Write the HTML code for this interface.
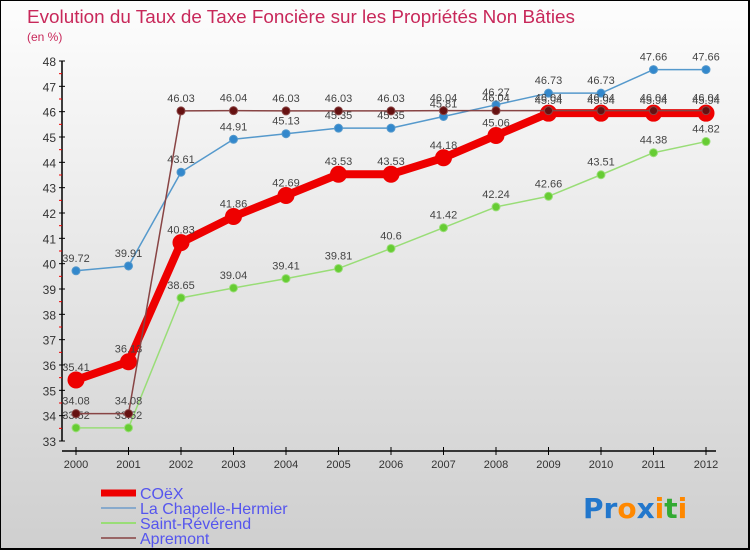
<!DOCTYPE html>
<html><head><meta charset="utf-8"><style>
body{margin:0;}
#c{position:relative;width:750px;height:550px;box-sizing:border-box;border:1px solid #000;border-width:1px 2px 2px 1px;background:linear-gradient(#fdfdfd,#cfcfcf);font-family:"Liberation Sans",sans-serif;overflow:hidden}
</style></head><body>
<div id="c">
<svg id="s" width="750" height="550"></svg>
</div>
<script>
const years=["2000","2001","2002","2003","2004","2005","2006","2007","2008","2009","2010","2011","2012"];
const coex=[35.41,36.13,40.83,41.86,42.69,43.53,43.53,44.18,45.06,45.94,45.94,45.94,45.94];
const chapelle=[39.72,39.91,43.61,44.91,45.13,45.35,45.35,45.81,46.27,46.73,46.73,47.66,47.66];
const reverend=[33.52,33.52,38.65,39.04,39.41,39.81,40.6,41.42,42.24,42.66,43.51,44.38,44.82];
const apremont=[34.08,34.08,46.03,46.04,46.03,46.03,46.03,46.04,46.04,46.04,46.04,46.04,46.04];
const yTicks=[33,34,35,36,37,38,39,40,41,42,43,44,45,46,47,48];
const NS="http://www.w3.org/2000/svg";
const svg=document.getElementById('s');
const X=i=>75+i*52.5;
const Y=v=>440-(v-33)*(380/15);
function el(t,a,txt){const e=document.createElementNS(NS,t);for(const k in a)e.setAttribute(k,a[k]);if(txt!==undefined)e.textContent=txt;svg.appendChild(e);return e;}
let e;
e=el('text',{x:26,y:22,fill:'#c8285a','font-size':18.5,textLength:548,lengthAdjust:'spacingAndGlyphs'},'Evolution du Taux de Taxe Foncière sur les Propriétés Non Bâties');


e=el('text',{x:26,y:40,fill:'#c8285a','font-size':12},'(en %)');


e=el('line',{x1:61,y1:60,x2:61,y2:440,stroke:'#000','stroke-width':1.5});


yTicks.forEach(v=>{
 el('line',{x1:58,y1:Y(v),x2:64,y2:Y(v),stroke:'#000'});
 if(v<48)el('line',{x1:58,y1:Y(v+0.5),x2:61,y2:Y(v+0.5),stroke:'#e00'});
 e=el('text',{x:55,y:Y(v)+5,'text-anchor':'end','font-size':12,fill:'#333'},v);
 
 
});
e=el('line',{x1:61,y1:450,x2:715,y2:450,stroke:'#000','stroke-width':1.5});


years.forEach((y,i)=>{
 el('line',{x1:X(i),y1:446,x2:X(i),y2:454,stroke:'#000'});
 e=el('text',{x:X(i),y:467,'text-anchor':'middle','font-size':11,fill:'#333'},y);
 
 
});
function series(data,color,dot,w,r,name){
 e=el('polyline',{points:data.map((v,i)=>X(i)+','+Y(v)).join(' '),fill:'none',stroke:color,'stroke-width':w,'stroke-linejoin':'round'});
 
 
 data.forEach((v,i)=>{
  e=el('circle',{cx:X(i),cy:Y(v),r:r,fill:dot,stroke:color,'stroke-width':1});
  
  
  e=el('text',{x:X(i),y:Y(v)-9,'text-anchor':'middle','font-size':11,fill:'#444'},v);
  
  
 });
}
series(reverend,'#99dd77','#66cc33',1.5,4,'saint-reverend');
series(chapelle,'#5599cc','#3388cc',1.5,4,'la-chapelle-hermier');
series(coex,'#ee0000','#ee0000',8,8,'coex');
series(apremont,'#884444','#661111',1.5,4,'apremont');
const legend=[['COëX','#ee0000',7],['La Chapelle-Hermier','#88aacc',2],['Saint-Révérend','#99dd77',2],['Apremont','#996666',2]];
legend.forEach((l,i)=>{
 const y=492+i*15;
 e=el('line',{x1:100,y1:y,x2:135,y2:y,stroke:l[1],'stroke-width':l[2]});
 
 
 e=el('text',{x:139,y:y+6,'font-size':16,fill:'#5555ee'},l[0]);
 
 
});
e=el('text',{x:582,y:517,'font-size':28,'font-weight':'bold',fill:'#2277cc','font-family':'DejaVu Sans, sans-serif'},'');


[['P','#2277cc'],['r','#2277cc'],['o','#ff8800'],['x','#2277cc'],['i','#ff8800'],['t','#33aa33'],['i','#ff8800']].forEach(p=>{
 const t=document.createElementNS(NS,'tspan');t.setAttribute('fill',p[1]);t.textContent=p[0];e.appendChild(t);
});
</script>
</body></html>
